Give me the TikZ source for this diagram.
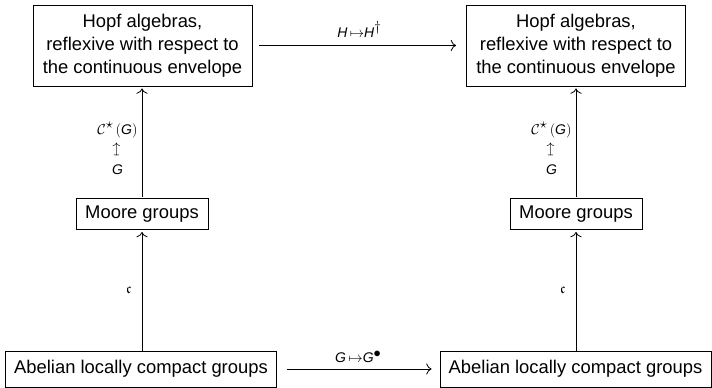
\documentclass[tikz,border=0pt]{standalone}
\usepackage{fontspec}
\setmainfont{Liberation Sans}
\usepackage{amssymb}
\usepackage{graphicx}
\usetikzlibrary{arrows.meta}
\tikzset{
  box/.style={draw, line width=0.8pt, align=center, inner sep=0pt, font=\fontsize{18.4}{23}\selectfont},
  hopf/.style={box, minimum width=219pt, minimum height=81pt},
  moore/.style={box, minimum width=132pt, minimum height=31pt},
  abel/.style={box, minimum width=271pt, minimum height=36pt},
  lbl/.style={font=\fontsize{14}{16}\selectfont, inner sep=1pt, align=center},
  arr/.style={line width=0.8pt, -{To[scale=1.6]}},
}
\newcommand{\upmapsto}{\rotatebox{90}{$\mapsto$}}
\begin{document}
\begin{tikzpicture}[x=1pt,y=-1pt]
\useasboundingbox (0,0) rectangle (712,388);
\node[hopf] (hl) at (142.5,45.5) {Hopf algebras,\\reflexive with respect to\\the continuous envelope};
\node[hopf] (hr) at (576,45.5) {Hopf algebras,\\reflexive with respect to\\the continuous envelope};
\node[moore] (ml) at (142,214) {Moore groups};
\node[moore] (mr) at (576,214) {Moore groups};
\node[abel] (al) at (141,369) {Abelian locally compact groups};
\node[abel] (ar) at (575.5,369) {Abelian locally compact groups};

\draw[arr, shorten <=7pt, shorten >=10pt] (hl.east) -- (hr.west)
  node[lbl, midway, above=7pt] {\textit{H}\,$\mapsto$\textit{H}$^{\textstyle\dagger}$};
\draw[arr, shorten <=10pt, shorten >=8pt] (al.east) -- (ar.west)
  node[lbl, midway, above=5pt] {\textit{G}\,$\mapsto$\textit{G}$^{\textstyle\bullet}$};

\draw[arr, shorten <=1pt, shorten >=2pt] (ml.north) -- (hl.south -| ml.north)
  node[lbl, midway, left=3pt, yshift=-6pt] {$\mathcal{C}^{\textstyle\star}\,($\textit{G}$)$\\[3pt]\upmapsto\\[2pt]\textit{G}};
\draw[arr, shorten <=1pt, shorten >=2pt] (mr.north) -- (hr.south -| mr.north)
  node[lbl, midway, left=3pt, yshift=-6pt] {$\mathcal{C}^{\textstyle\star}\,($\textit{G}$)$\\[3pt]\upmapsto\\[2pt]\textit{G}};

\draw[arr, shorten >=2pt] (al.north -| ml.south) -- (ml.south)
  node[lbl, midway, left=9pt] {$\mathfrak{c}$};
\draw[arr, shorten >=2pt] (ar.north -| mr.south) -- (mr.south)
  node[lbl, midway, left=9pt] {$\mathfrak{c}$};
\end{tikzpicture}
\end{document}
